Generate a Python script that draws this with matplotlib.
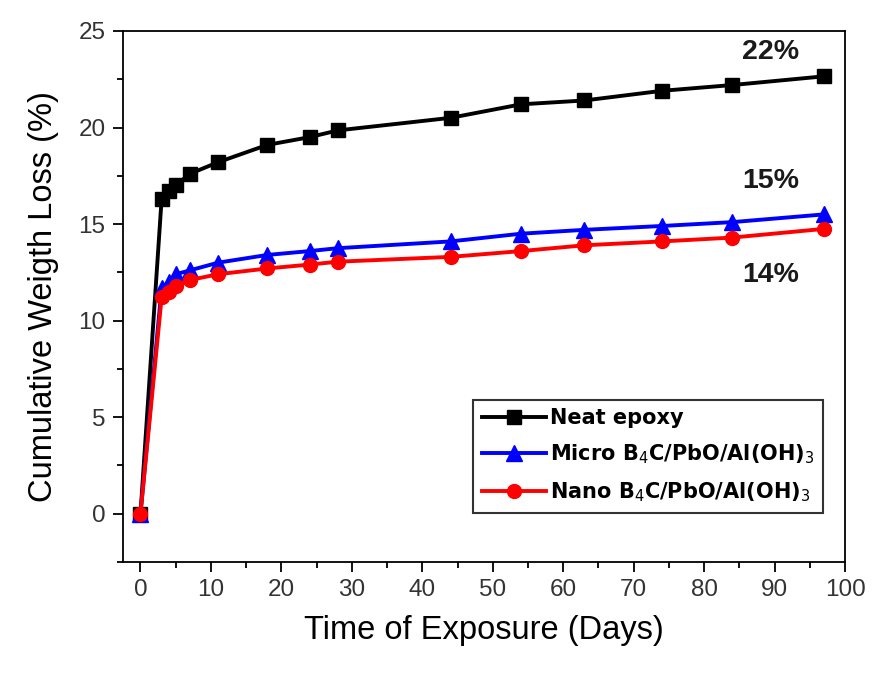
import matplotlib as mpl
mpl.use("Agg")
import matplotlib.pyplot as plt
from matplotlib.ticker import MultipleLocator

plt.rcParams["font.family"] = ["Liberation Sans", "DejaVu Sans"]

days = [0, 3, 4, 5, 7, 11, 18, 24, 28, 44, 54, 63, 74, 84, 97]
neat_epoxy = [0, 16.3, 16.7, 17.0, 17.6, 18.2, 19.1, 19.5, 19.85, 20.5, 21.2, 21.4, 21.9, 22.2, 22.65]
micro = [0, 11.7, 12.0, 12.4, 12.6, 13.0, 13.4, 13.6, 13.75, 14.1, 14.5, 14.7, 14.9, 15.1, 15.5]
nano = [0, 11.2, 11.5, 11.8, 12.1, 12.4, 12.7, 12.9, 13.05, 13.3, 13.6, 13.9, 14.1, 14.3, 14.75]
final_labels = ["22%", "15%", "14%"]
label_y = [23.9, 17.25, 12.35]

fig = plt.figure(figsize=(8.84, 6.73), dpi=100)
ax = fig.add_axes([0.139, 0.165, 0.817, 0.789])

ax.plot(days, neat_epoxy, color="black", lw=2.8, marker="s", ms=10, label="Neat epoxy")
ax.plot(days, micro, color="blue", lw=2.8, marker="^", ms=11, label=r"Micro B$_4$C/PbO/Al(OH)$_3$")
ax.plot(days, nano, color="red", lw=2.8, marker="o", ms=10, label=r"Nano B$_4$C/PbO/Al(OH)$_3$")

for txt, y in zip(final_labels, label_y):
    ax.text(89.4, y, txt, fontsize=20.5, fontweight="bold", ha="center", va="center", color="#1a1a1a")

ax.set_xlim(-2.5, 100)
ax.set_ylim(-2.5, 25)
ax.xaxis.set_major_locator(MultipleLocator(10))
ax.xaxis.set_minor_locator(MultipleLocator(5))
ax.yaxis.set_major_locator(MultipleLocator(5))
ax.yaxis.set_minor_locator(MultipleLocator(2.5))
ax.tick_params(which="both", direction="out", top=False, right=False, labelsize=17.5, labelcolor="#333333")
ax.tick_params(which="major", length=7.5, width=1.3, pad=5)
ax.tick_params(which="minor", length=4, width=1.3)
for s in ax.spines.values():
    s.set_linewidth(1.3)

ax.set_xlabel("Time of Exposure (Days)", fontsize=23.5, labelpad=10)
ax.set_ylabel("Cumulative Weigth Loss (%)", fontsize=23.5, labelpad=14)

leg = ax.legend(loc="lower right", bbox_to_anchor=(0.97, 0.093), fancybox=False, edgecolor="black",
                prop={"family": "DejaVu Sans", "weight": "bold", "size": 15}, handlelength=3.1,
                handletextpad=0.2, borderpad=0.4, labelspacing=0.7, borderaxespad=0)
leg.get_frame().set_linewidth(1.5)

fig.savefig("out.png", dpi=100)
